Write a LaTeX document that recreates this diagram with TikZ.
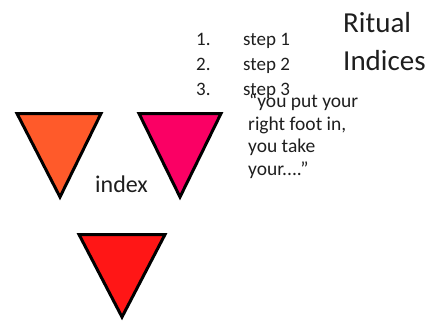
\documentclass[tikz,border=0pt]{standalone}
\usepackage{fontspec}
\setmainfont{Carlito}
\usepackage{xcolor}
\definecolor{triorange}{RGB}{255,90,42}
\definecolor{tripink}{RGB}{250,0,100}
\definecolor{trired}{RGB}{255,22,22}
\definecolor{slidetext}{RGB}{30,30,30}

\begin{document}
\begin{tikzpicture}[x=1pt, y=-1pt,
  tri/.style={draw=black, line width=3pt, line join=miter},
  title/.style={anchor=base west, inner sep=0pt, text=slidetext, font=\fontsize{29}{34}\selectfont},
  item/.style={anchor=base west, inner sep=0pt, text=slidetext, font=\fontsize{19}{22}\selectfont},
  quote/.style={anchor=base west, inner sep=0pt, text=slidetext, font=\fontsize{19.5}{22}\selectfont},
  label/.style={anchor=base west, inner sep=0pt, text=slidetext, font=\fontsize{24}{28}\selectfont}
]
\useasboundingbox (0,0) rectangle (435,327);
% triangles
\draw[tri, fill=triorange] (17,113.5) -- (101,113.5) -- (60,197) -- cycle;
\draw[tri, fill=tripink] (139,113.5) -- (221,113.5) -- (180,197) -- cycle;
\draw[tri, fill=trired] (79,234.5) -- (165,234.5) -- (122,317) -- cycle;
% title
\node[title] (ritual) at (343,32) {Ritual};
\node[title] (indices) at (343,70) {Indices};
% numbered steps
\node[item] (num1) at (196,45) {1.};
\node[item] (num2) at (196,70) {2.};
\node[item] (num3) at (196,95) {3.};
\node[item] (step1) at (243,45) {step 1};
\node[item] (step2) at (243,70) {step 2};
\node[item] (step3) at (243,95) {step 3};
% quote
\node[quote] (line1) at (249,107) {“you put your};
\node[quote] (line2) at (248,130) {right foot in,};
\node[quote] (line3) at (248,152) {you take};
\node[quote] (line4) at (248,175) {your....”};
\node[label] (index) at (95,192) {index};
\end{tikzpicture}
\end{document}
